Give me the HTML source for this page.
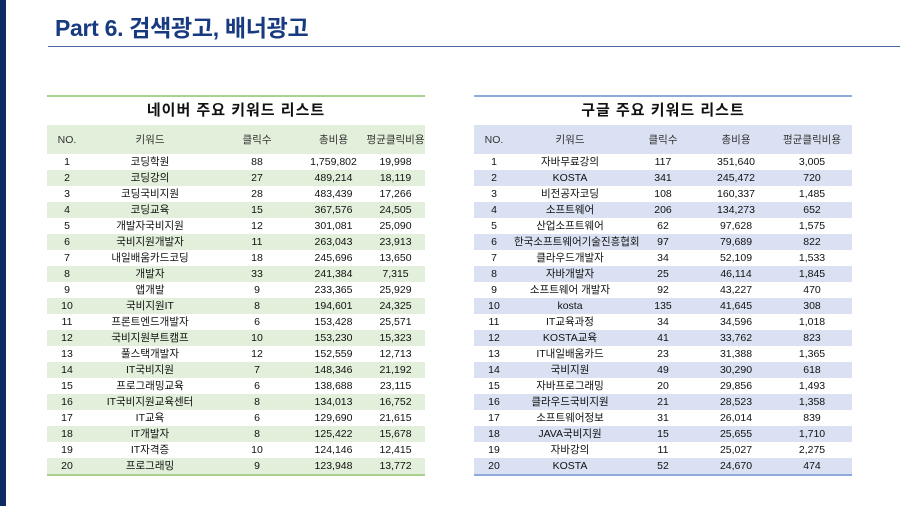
<!DOCTYPE html>
<html><head><meta charset="utf-8"><style>
*{margin:0;padding:0;box-sizing:border-box}
body{width:900px;height:506px;background:#fff;position:relative;overflow:hidden;font-family:"Liberation Sans","Noto Sans CJK KR",sans-serif;color:#111}
.bar{position:absolute;left:0;top:0;width:6px;height:506px;background:#0d2a63}
.title{position:absolute;left:55px;top:9px;font-size:23px;font-weight:bold;color:#173a80;letter-spacing:-0.3px}
.hl{position:absolute;left:48px;top:46px;width:852px;height:1px;background:#4a66a0}
table{position:absolute;top:95px;border-collapse:collapse;font-size:10.5px;table-layout:fixed}
td{text-align:center;height:16px;padding:0;white-space:nowrap;line-height:16px}
.cap td{height:28px;font-size:15px;font-weight:bold;line-height:28px;letter-spacing:1px}
.hd td{height:29px;font-size:10.5px;color:#333}
#L{left:47px;width:378px;border-top:2px solid #a9d08e;border-bottom:2px solid #a9d08e}
#L .hd td,#L tr.e td{background:#e2efda}
#R{left:474px;width:378px;border-top:2px solid #8ea9db;border-bottom:2px solid #8ea9db}
#R .hd td,#R tr.e td{background:#d9e1f2}
</style></head><body>
<div class="bar"></div>
<div class="title">Part 6. 검색광고, 배너광고</div>
<div class="hl"></div>
<table id="L">
<colgroup><col style="width:40px"><col style="width:126px"><col style="width:88px"><col style="width:65px"><col style="width:59px"></colgroup>
<tr class="cap"><td colspan="5">네이버 주요 키워드 리스트</td></tr>
<tr class="hd"><td>NO.</td><td>키워드</td><td>클릭수</td><td>총비용</td><td>평균클릭비용</td></tr>
<tr><td>1</td><td>코딩학원</td><td>88</td><td>1,759,802</td><td>19,998</td></tr>
<tr class="e"><td>2</td><td>코딩강의</td><td>27</td><td>489,214</td><td>18,119</td></tr>
<tr><td>3</td><td>코딩국비지원</td><td>28</td><td>483,439</td><td>17,266</td></tr>
<tr class="e"><td>4</td><td>코딩교육</td><td>15</td><td>367,576</td><td>24,505</td></tr>
<tr><td>5</td><td>개발자국비지원</td><td>12</td><td>301,081</td><td>25,090</td></tr>
<tr class="e"><td>6</td><td>국비지원개발자</td><td>11</td><td>263,043</td><td>23,913</td></tr>
<tr><td>7</td><td>내일배움카드코딩</td><td>18</td><td>245,696</td><td>13,650</td></tr>
<tr class="e"><td>8</td><td>개발자</td><td>33</td><td>241,384</td><td>7,315</td></tr>
<tr><td>9</td><td>앱개발</td><td>9</td><td>233,365</td><td>25,929</td></tr>
<tr class="e"><td>10</td><td>국비지원IT</td><td>8</td><td>194,601</td><td>24,325</td></tr>
<tr><td>11</td><td>프론트엔드개발자</td><td>6</td><td>153,428</td><td>25,571</td></tr>
<tr class="e"><td>12</td><td>국비지원부트캠프</td><td>10</td><td>153,230</td><td>15,323</td></tr>
<tr><td>13</td><td>풀스택개발자</td><td>12</td><td>152,559</td><td>12,713</td></tr>
<tr class="e"><td>14</td><td>IT국비지원</td><td>7</td><td>148,346</td><td>21,192</td></tr>
<tr><td>15</td><td>프로그래밍교육</td><td>6</td><td>138,688</td><td>23,115</td></tr>
<tr class="e"><td>16</td><td>IT국비지원교육센터</td><td>8</td><td>134,013</td><td>16,752</td></tr>
<tr><td>17</td><td>IT교육</td><td>6</td><td>129,690</td><td>21,615</td></tr>
<tr class="e"><td>18</td><td>IT개발자</td><td>8</td><td>125,422</td><td>15,678</td></tr>
<tr><td>19</td><td>IT자격증</td><td>10</td><td>124,146</td><td>12,415</td></tr>
<tr class="e"><td>20</td><td>프로그래밍</td><td>9</td><td>123,948</td><td>13,772</td></tr>
</table>
<table id="R">
<colgroup><col style="width:40px"><col style="width:112px"><col style="width:74px"><col style="width:72px"><col style="width:80px"></colgroup>
<tr class="cap"><td colspan="5">구글 주요 키워드 리스트</td></tr>
<tr class="hd"><td>NO.</td><td>키워드</td><td>클릭수</td><td>총비용</td><td>평균클릭비용</td></tr>
<tr><td>1</td><td>자바무료강의</td><td>117</td><td>351,640</td><td>3,005</td></tr>
<tr class="e"><td>2</td><td>KOSTA</td><td>341</td><td>245,472</td><td>720</td></tr>
<tr><td>3</td><td>비전공자코딩</td><td>108</td><td>160,337</td><td>1,485</td></tr>
<tr class="e"><td>4</td><td>소프트웨어</td><td>206</td><td>134,273</td><td>652</td></tr>
<tr><td>5</td><td>산업소프트웨어</td><td>62</td><td>97,628</td><td>1,575</td></tr>
<tr class="e"><td>6</td><td>한국소프트웨어기술진흥협회</td><td>97</td><td>79,689</td><td>822</td></tr>
<tr><td>7</td><td>클라우드개발자</td><td>34</td><td>52,109</td><td>1,533</td></tr>
<tr class="e"><td>8</td><td>자바개발자</td><td>25</td><td>46,114</td><td>1,845</td></tr>
<tr><td>9</td><td>소프트웨어 개발자</td><td>92</td><td>43,227</td><td>470</td></tr>
<tr class="e"><td>10</td><td>kosta</td><td>135</td><td>41,645</td><td>308</td></tr>
<tr><td>11</td><td>IT교육과정</td><td>34</td><td>34,596</td><td>1,018</td></tr>
<tr class="e"><td>12</td><td>KOSTA교육</td><td>41</td><td>33,762</td><td>823</td></tr>
<tr><td>13</td><td>IT내일배움카드</td><td>23</td><td>31,388</td><td>1,365</td></tr>
<tr class="e"><td>14</td><td>국비지원</td><td>49</td><td>30,290</td><td>618</td></tr>
<tr><td>15</td><td>자바프로그래밍</td><td>20</td><td>29,856</td><td>1,493</td></tr>
<tr class="e"><td>16</td><td>클라우드국비지원</td><td>21</td><td>28,523</td><td>1,358</td></tr>
<tr><td>17</td><td>소프트웨어정보</td><td>31</td><td>26,014</td><td>839</td></tr>
<tr class="e"><td>18</td><td>JAVA국비지원</td><td>15</td><td>25,655</td><td>1,710</td></tr>
<tr><td>19</td><td>자바강의</td><td>11</td><td>25,027</td><td>2,275</td></tr>
<tr class="e"><td>20</td><td>KOSTA</td><td>52</td><td>24,670</td><td>474</td></tr>
</table>
</body></html>
